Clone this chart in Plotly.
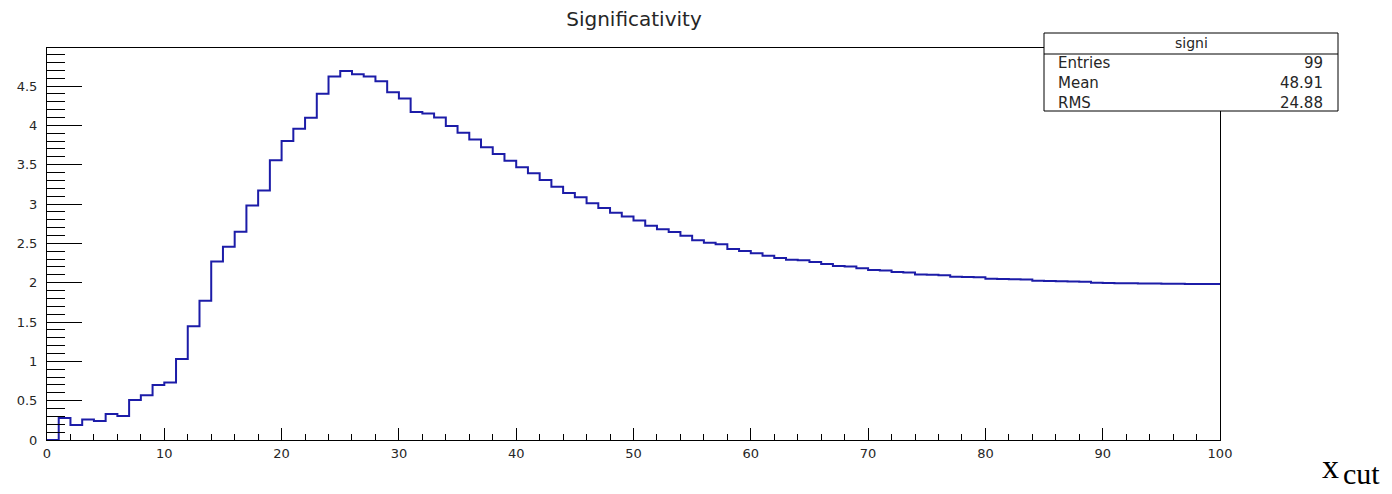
import plotly.graph_objects as go

# ---------------- data ----------------
bin_low_edges = list(range(0, 100))   # bins of width 1 from 0 to 100
x_max = 100
signi_values = [
    0.0, 0.28, 0.19, 0.26, 0.24, 0.33, 0.305, 0.51, 0.57, 0.70,
    0.73, 1.03, 1.445, 1.77, 2.27, 2.457, 2.648, 2.98, 3.17, 3.555,
    3.80, 3.957, 4.097, 4.40, 4.62, 4.69, 4.65, 4.62, 4.56, 4.42,
    4.34, 4.17, 4.15, 4.10, 3.99, 3.906, 3.82, 3.72, 3.635, 3.55,
    3.466, 3.39, 3.305, 3.22, 3.14, 3.085, 3.01, 2.95, 2.89, 2.84,
    2.79, 2.725, 2.68, 2.644, 2.595, 2.538, 2.508, 2.487, 2.428, 2.402,
    2.373, 2.343, 2.313, 2.292, 2.285, 2.263, 2.237, 2.212, 2.204, 2.182,
    2.160, 2.154, 2.134, 2.128, 2.105, 2.100, 2.095, 2.076, 2.072, 2.068,
    2.050, 2.046, 2.043, 2.040, 2.025, 2.022, 2.019, 2.016, 2.013, 1.998,
    1.996, 1.994, 1.992, 1.990, 1.988, 1.986, 1.985, 1.984, 1.983, 1.982,
]
stats_title = "signi"
stats_labels = ["Entries", "Mean", "RMS"]
stats_values = ["99", "48.91", "24.88"]
title_text = "Significativity"
y_max = 4.983

# ---------------- layout constants ----------------
W, H = 1392, 494
L, R, T, B = 47, 172, 48, 54
PW, PH = W - L - R, H - T - B

def px_x(px):
    return (px - L) / PW

def px_y(py):
    return (H - B - py) / PH

TXT = "#262626"
SANS = "DejaVu Sans"

xs = bin_low_edges + [x_max]
ys = signi_values + [signi_values[-1]]

fig = go.Figure()
fig.add_trace(go.Scatter(
    x=xs, y=ys, mode="lines",
    line=dict(shape="hv", color="#1c1ca8", width=2),
    hoverinfo="skip", showlegend=False,
))

axis_common = dict(
    showgrid=False, zeroline=False, showline=True, mirror=True,
    linecolor="black", linewidth=1, ticks="inside", tickcolor="black",
    tickwidth=1, tickfont=dict(family=SANS, size=13, color=TXT),
)

fig.update_xaxes(
    range=[0, x_max], tick0=0, dtick=10, ticklen=12,
    minor=dict(ticks="inside", dtick=2, ticklen=6, tickcolor="black", tickwidth=1),
    ticklabelstandoff=1,
    **axis_common,
)
fig.update_yaxes(
    range=[0, y_max], tick0=0, dtick=0.5, ticklen=35,
    minor=dict(ticks="inside", dtick=0.1, ticklen=18, tickcolor="black", tickwidth=1),
    ticklabelstandoff=6,
    **axis_common,
)

# stats box
bx0, bx1, by0, by1, bdiv = 1044, 1338, 33, 111, 54
shapes = [
    dict(type="rect", xref="paper", yref="paper",
         x0=px_x(bx0), x1=px_x(bx1), y0=px_y(by1), y1=px_y(by0),
         line=dict(color="black", width=1), fillcolor="white", layer="above"),
    dict(type="line", xref="paper", yref="paper",
         x0=px_x(bx0), x1=px_x(bx1), y0=px_y(bdiv), y1=px_y(bdiv),
         line=dict(color="black", width=1), layer="above"),
]

annotations = [
    dict(text=stats_title, xref="paper", yref="paper", x=px_x((bx0 + bx1) / 2),
         y=px_y(43.5), xanchor="center", yanchor="middle", showarrow=False,
         font=dict(family=SANS, size=14, color=TXT)),
]
row_y = [63, 83, 103]
for lab, val, ry in zip(stats_labels, stats_values, row_y):
    annotations.append(dict(text=lab, xref="paper", yref="paper", x=px_x(1056),
                            y=px_y(ry), xanchor="left", yanchor="middle", showarrow=False,
                            font=dict(family=SANS, size=15, color=TXT)))
    annotations.append(dict(text=val, xref="paper", yref="paper", x=px_x(1325),
                            y=px_y(ry), xanchor="right", yanchor="middle", showarrow=False,
                            font=dict(family=SANS, size=15, color=TXT)))

# x axis title  x_cut
annotations.append(dict(text="x", xref="paper", yref="paper", x=px_x(1320),
                        y=px_y(466), xanchor="left", yanchor="middle", showarrow=False,
                        font=dict(family="Liberation Serif", size=34, color="black")))
annotations.append(dict(text="cut", xref="paper", yref="paper", x=px_x(1341),
                        y=px_y(473), xanchor="left", yanchor="middle", showarrow=False,
                        font=dict(family="Liberation Serif", size=30, color="black")))

fig.update_layout(
    width=W, height=H, autosize=False,
    margin=dict(l=L, r=R, t=T, b=B, pad=0),
    paper_bgcolor="white", plot_bgcolor="white",
    title=dict(text=title_text, x=634 / W, xanchor="center",
               y=1 - 19 / H, yanchor="middle",
               font=dict(family=SANS, size=20, color=TXT)),
    shapes=shapes, annotations=annotations, showlegend=False,
)

fig.write_html(
    "out.html",
    config={"displayModeBar": False},
    post_script="document.body.style.margin='0px';document.body.style.overflow='hidden';",
)
